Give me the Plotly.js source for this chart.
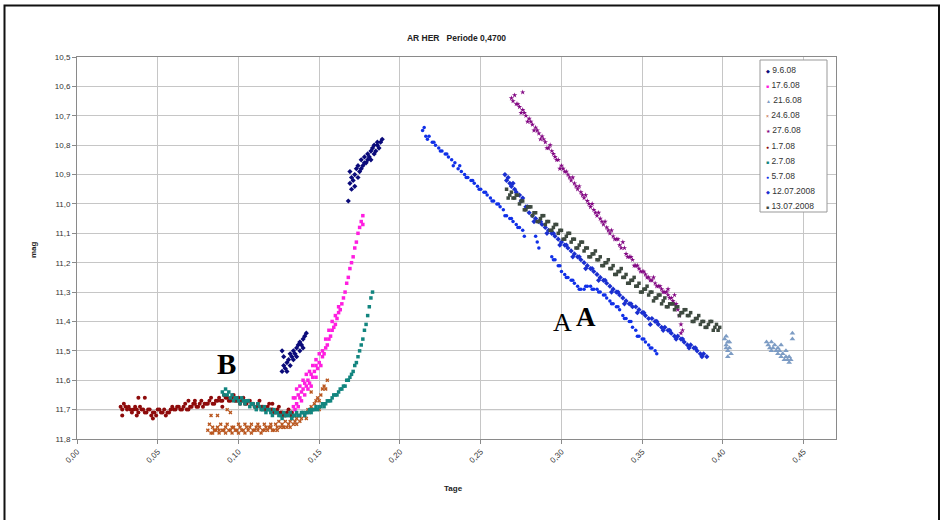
<!DOCTYPE html>
<html><head><meta charset="utf-8">
<script src="https://cdn.plot.ly/plotly-3.0.1.min.js"></script>
<style>html,body{margin:0;padding:0;background:#fff;} #chart{width:942px;height:520px;}</style>
</head><body><div id="chart"></div>
<script>
// ---- data (x = Tage phase, y = mag) ----
const x_9_6 = [0.127,0.127,0.128,0.128,0.129,0.130,0.130,0.131,0.132,0.132,0.133,0.134,0.134,0.135,0.136,0.136,0.137,0.138,0.138,0.139,0.140,0.140,0.141,0.142,
 0.168,0.169,0.169,0.170,0.170,0.171,0.172,0.172,0.173,0.174,0.174,0.175,0.176,0.176,0.177,0.178,0.178,0.179,0.180,0.180,0.181,0.182,0.182,0.183,0.184,0.184,0.185,0.186,0.186,0.187,0.188,0.189];
const y_9_6 = [11.57,11.50,11.55,11.52,11.56,11.54,11.57,11.53,11.55,11.51,11.52,11.50,11.53,11.51,11.49,11.52,11.48,11.50,11.47,11.48,11.46,11.49,11.45,11.44,
 10.99,10.93,10.89,10.95,10.91,10.92,10.90,10.94,10.88,10.91,10.87,10.89,10.88,10.85,10.87,10.86,10.84,10.86,10.83,10.85,10.84,10.82,10.85,10.81,10.83,10.80,10.82,10.80,10.79,10.81,10.79,10.78];

const x_17_6 = [0.133,0.134,0.135,0.135,0.136,0.137,0.137,0.138,0.139,0.139,0.140,0.141,0.141,0.142,0.143,0.143,0.144,0.145,0.145,0.146,0.147,0.148,0.148,0.149,0.150,0.151,0.152,0.153,0.154,0.155,0.156,0.157,0.158,0.159,0.160,0.161,0.162,0.163,0.164,0.165,0.166,0.167,0.168,0.169,0.170,0.171,0.172,0.173,0.174,0.175,0.176,0.177,0.177];
const y_17_6 = [11.71,11.69,11.70,11.66,11.68,11.65,11.69,11.66,11.64,11.67,11.63,11.65,11.61,11.62,11.60,11.63,11.61,11.58,11.62,11.59,11.57,11.59,11.55,11.56,11.54,11.55,11.52,11.51,11.49,11.48,11.46,11.45,11.43,11.42,11.41,11.39,11.37,11.36,11.34,11.32,11.30,11.27,11.25,11.22,11.20,11.18,11.15,11.13,11.10,11.08,11.06,11.04,11.07];
const x_17_6b = [0.134,0.136,0.138,0.140,0.142,0.144,0.146,0.148,0.150,0.152,0.154,0.156,0.158,0.160,0.162];
const y_17_6b = [11.66,11.63,11.62,11.60,11.58,11.57,11.55,11.53,11.51,11.50,11.46,11.43,11.40,11.38,11.35];

const x_21_6 = [0.401,0.402,0.402,0.403,0.403,0.404,0.404,0.405,0.403,0.402,
 0.427,0.428,0.429,0.430,0.430,0.431,0.432,0.433,0.434,0.434,0.435,0.436,0.436,0.437,0.438,0.439,0.439,0.440,0.441,0.441,0.442,0.443,0.443];
const y_21_6 = [11.46,11.48,11.45,11.47,11.50,11.49,11.47,11.51,11.52,11.49,
 11.47,11.48,11.49,11.47,11.50,11.49,11.48,11.50,11.51,11.49,11.50,11.52,11.48,11.51,11.53,11.52,11.50,11.53,11.54,11.52,11.53,11.46,11.44];

const x_24_6 = [0.081,0.082,0.083,0.084,0.085,0.087,0.088,0.089,0.091,0.092,0.093,0.095,0.096,0.097,0.099,0.100,0.101,0.103,0.104,0.105,0.107,0.108,0.109,0.111,0.112,0.113,0.115,0.116,0.117,0.119,0.120,0.121,0.123,0.124,0.125,0.127,0.128,0.129,0.131,0.132,0.133,0.135,0.136,0.137,0.139,0.140,0.141,0.143,0.144,0.145,0.147,0.148,0.149,0.151,0.152,0.153,0.155,
 0.083,0.087,0.093,0.095,0.145,0.150];
const y_24_6 = [11.77,11.75,11.78,11.76,11.77,11.76,11.77,11.75,11.77,11.76,11.75,11.77,11.76,11.76,11.77,11.75,11.76,11.77,11.75,11.76,11.76,11.75,11.77,11.76,11.75,11.76,11.77,11.75,11.76,11.76,11.75,11.77,11.75,11.76,11.74,11.75,11.76,11.74,11.75,11.74,11.73,11.74,11.73,11.72,11.73,11.71,11.72,11.70,11.71,11.69,11.68,11.67,11.66,11.65,11.63,11.62,11.60,
 11.72,11.72,11.70,11.71,11.64,11.70];
const x_24_6b = [0.084,0.086,0.088,0.090,0.092,0.094,0.096,0.098,0.100,0.102,0.104,0.106,0.108,0.110,0.112,0.114,0.116,0.118,0.120,0.122,0.124,0.126,0.128,0.130,0.132,0.134,0.136,0.138,0.142,0.146,0.150,0.154];
const y_24_6b = [11.78,11.77,11.78,11.77,11.78,11.77,11.78,11.77,11.78,11.77,11.78,11.77,11.78,11.77,11.77,11.78,11.77,11.77,11.76,11.77,11.77,11.76,11.76,11.76,11.76,11.75,11.75,11.74,11.73,11.70,11.67,11.63];

const x_27_6 = [0.269,0.270,0.271,0.272,0.274,0.276,0.276,0.278,0.280,0.282,0.284,0.286,0.288,0.290,0.292,0.293,0.294,0.296,0.298,0.299,0.300,0.302,0.304,0.306,0.308,0.310,0.312,0.314,0.316,0.318,0.320,0.322,0.324,0.326,0.328,0.330,0.332,0.334,0.336,0.338,0.340,0.342,0.344,0.346,0.348,0.350,0.352,0.354,0.356,0.357,0.358,0.360,0.362,0.364,0.366,0.366,0.368,0.370,0.370,0.372,0.373,0.374,0.374,0.375];
const y_27_6 = [10.64,10.65,10.63,10.66,10.67,10.68,10.62,10.70,10.71,10.73,10.74,10.76,10.77,10.79,10.81,10.80,10.82,10.84,10.85,10.88,10.87,10.89,10.90,10.92,10.93,10.95,10.96,10.98,10.99,11.01,11.02,11.04,11.05,11.07,11.08,11.10,11.11,11.12,11.14,11.13,11.17,11.18,11.19,11.21,11.22,11.23,11.24,11.25,11.26,11.25,11.27,11.28,11.29,11.30,11.31,11.29,11.32,11.34,11.31,11.36,11.38,11.41,11.44,11.43];
const x_27_6b = [0.273,0.275,0.277,0.279,0.281,0.283,0.285,0.287,0.289,0.291,0.295,0.297,0.301,0.303,0.305,0.307,0.309,0.311,0.313,0.315,0.317,0.319,0.321,0.323,0.325,0.327,0.329,0.331,0.333,0.335,0.337,0.339,0.341,0.343,0.345,0.347,0.349,0.351,0.353,0.355,0.359,0.361,0.363,0.365,0.367,0.369,0.371];
const y_27_6b = [10.66,10.69,10.69,10.72,10.72,10.75,10.75,10.78,10.78,10.81,10.83,10.85,10.88,10.89,10.91,10.91,10.94,10.94,10.97,10.97,11.00,11.00,11.03,11.03,11.06,11.06,11.09,11.09,11.12,11.12,11.15,11.15,11.18,11.18,11.21,11.21,11.23,11.23,11.25,11.26,11.28,11.28,11.30,11.30,11.32,11.33,11.34];

const x_1_7 = [0.027,0.028,0.029,0.030,0.031,0.032,0.033,0.034,0.035,0.036,0.038,0.040,0.042,0.044,0.046,0.048,0.050,0.052,0.054,0.056,0.058,0.060,0.062,0.064,0.066,0.068,0.070,0.072,0.074,0.076,0.078,0.080,0.082,0.084,0.086,0.088,0.090,0.092,0.094,0.096,0.098,0.100,0.102,0.104,0.106,0.108,0.110,0.112,0.114,0.116,0.118,0.120,0.122,0.124,0.126,0.128,0.130,0.132,0.134,
 0.028,0.038,0.042,0.069,0.073,0.037,0.047,0.090,0.121];
const y_1_7 = [11.69,11.70,11.68,11.69,11.70,11.69,11.70,11.71,11.70,11.69,11.71,11.70,11.71,11.70,11.72,11.71,11.70,11.71,11.70,11.71,11.70,11.70,11.69,11.70,11.69,11.70,11.69,11.68,11.69,11.68,11.69,11.68,11.67,11.68,11.67,11.66,11.67,11.66,11.67,11.66,11.67,11.66,11.67,11.68,11.67,11.68,11.69,11.68,11.69,11.70,11.69,11.70,11.71,11.70,11.71,11.72,11.71,11.72,11.72,
 11.72,11.66,11.66,11.67,11.67,11.72,11.73,11.69,11.68];
const x_1_7b = [0.037,0.039,0.041,0.043,0.045,0.047,0.049,0.051,0.053,0.055,0.057,0.059,0.061,0.063,0.065,0.067,0.069,0.071,0.073,0.075,0.077,0.079,0.081,0.083,0.085,0.087,0.089,0.091,0.093,0.095,0.097,0.099,0.101,0.103,0.105,0.107,0.109,0.111,0.113,0.115,0.117,0.119,0.121,0.123,0.125,0.127,0.129,0.131,0.133];
const y_1_7b = [11.70,11.69,11.70,11.71,11.70,11.71,11.72,11.70,11.71,11.72,11.71,11.69,11.70,11.69,11.70,11.68,11.70,11.69,11.68,11.69,11.67,11.68,11.68,11.66,11.68,11.67,11.67,11.65,11.66,11.67,11.65,11.67,11.68,11.66,11.68,11.67,11.68,11.69,11.67,11.69,11.70,11.68,11.70,11.71,11.69,11.71,11.72,11.70,11.71];

const x_2_7 = [0.090,0.091,0.092,0.093,0.094,0.095,0.096,0.098,0.100,0.102,0.104,0.106,0.108,0.110,0.112,0.114,0.116,0.118,0.120,0.122,0.124,0.126,0.128,0.130,0.132,0.134,0.136,0.138,0.140,0.142,0.144,0.146,0.148,0.150,0.152,0.154,0.156,0.158,0.160,0.162,0.164,0.166,0.168,0.170,0.172,0.174,0.176,0.178,0.179,0.180,0.181,0.182,0.183];
const y_2_7 = [11.64,11.65,11.63,11.65,11.64,11.66,11.65,11.66,11.67,11.66,11.68,11.67,11.68,11.69,11.68,11.70,11.69,11.70,11.71,11.70,11.71,11.72,11.71,11.72,11.71,11.72,11.71,11.72,11.71,11.71,11.70,11.70,11.69,11.69,11.68,11.68,11.67,11.66,11.65,11.64,11.63,11.62,11.60,11.58,11.55,11.52,11.48,11.43,11.41,11.38,11.35,11.32,11.30];
const x_2_7b = [0.097,0.099,0.101,0.103,0.105,0.107,0.109,0.111,0.113,0.115,0.117,0.119,0.121,0.123,0.125,0.127,0.129,0.131,0.133,0.135,0.137,0.139,0.141,0.143,0.145,0.147,0.149,0.151,0.153,0.155,0.157,0.159,0.161,0.163,0.165,0.167,0.169,0.171,0.173,0.175,0.177];
const y_2_7b = [11.67,11.66,11.68,11.67,11.67,11.69,11.68,11.70,11.69,11.70,11.71,11.70,11.72,11.71,11.72,11.73,11.72,11.72,11.73,11.72,11.72,11.71,11.72,11.71,11.71,11.70,11.70,11.69,11.69,11.67,11.67,11.65,11.65,11.63,11.62,11.60,11.59,11.57,11.54,11.50,11.46];

const x_5_7 = [0.214,0.215,0.216,0.218,0.220,0.222,0.224,0.226,0.228,0.230,0.232,0.234,0.236,0.238,0.240,0.242,0.244,0.246,0.248,0.250,0.252,0.254,0.256,0.258,0.260,0.262,0.264,0.266,0.268,0.270,0.272,0.274,0.276,0.277,
 0.284,0.285,0.286,
 0.294,0.296,0.298,0.300,0.302,0.304,0.306,0.308,0.310,0.312,0.314,0.316,0.318,0.320,0.322,0.324,0.326,0.328,0.330,0.332,0.334,0.336,0.338,0.340,0.342,0.344,0.346,0.348,0.350,0.352,0.354,0.356,0.358,0.359];
const y_5_7 = [10.75,10.74,10.77,10.77,10.79,10.80,10.81,10.82,10.83,10.84,10.85,10.86,10.88,10.89,10.90,10.91,10.92,10.93,10.94,10.95,10.96,10.97,10.98,10.99,11.00,11.01,11.02,11.04,11.05,11.06,11.07,11.08,11.09,11.11,
 11.11,11.13,11.15,
 11.18,11.19,11.21,11.23,11.24,11.25,11.26,11.27,11.28,11.29,11.29,11.28,11.28,11.29,11.29,11.30,11.31,11.32,11.33,11.34,11.35,11.36,11.38,11.39,11.40,11.42,11.43,11.45,11.46,11.47,11.48,11.49,11.50,11.51];
const x_5_7b = [0.217,0.221,0.225,0.229,0.233,0.237,0.241,0.245,0.249,0.253,0.257,0.261,0.265,0.269,0.273,
 0.295,0.299,0.303,0.307,0.311,0.315,0.319,0.323,0.327,0.331,0.335,0.339,0.343,0.347,0.351,0.355];
const y_5_7b = [10.78,10.79,10.82,10.83,10.87,10.87,10.91,10.92,10.95,10.96,10.99,11.00,11.04,11.05,11.08,
 11.19,11.21,11.25,11.26,11.29,11.28,11.29,11.30,11.31,11.34,11.35,11.39,11.40,11.45,11.46,11.49];

const x_12_07 = [0.265,0.266,0.267,0.268,0.269,0.270,0.272,0.274,0.276,0.278,0.280,0.282,0.284,0.286,0.288,0.290,0.292,0.294,0.296,0.298,0.300,0.302,0.304,0.306,0.308,0.310,0.312,0.314,0.316,0.318,0.320,0.322,0.324,0.326,0.328,0.330,0.332,0.334,0.336,0.338,0.340,0.342,0.344,0.346,0.348,0.350,0.352,0.354,0.356,0.358,0.360,0.362,0.364,0.366,0.368,0.370,0.372,0.374,0.376,0.378,0.380,0.382,0.384,0.386,0.388,0.390];
const y_12_07 = [10.90,10.92,10.91,10.93,10.94,10.93,10.96,10.97,10.98,11.01,11.03,11.04,11.05,11.06,11.07,11.08,11.09,11.10,11.11,11.12,11.13,11.14,11.15,11.16,11.17,11.18,11.19,11.20,11.21,11.22,11.23,11.24,11.25,11.26,11.27,11.28,11.29,11.30,11.31,11.32,11.33,11.34,11.35,11.35,11.36,11.37,11.38,11.39,11.39,11.40,11.41,11.42,11.42,11.43,11.44,11.45,11.45,11.46,11.47,11.48,11.48,11.49,11.50,11.51,11.51,11.52];
const x_12_07b = [0.271,0.275,0.279,0.283,0.287,0.291,0.295,0.299,0.303,0.307,0.311,0.315,0.319,0.323,0.327,0.331,0.335,0.339,0.343,0.347,0.351,0.355,0.359,0.363,0.367,0.371,0.375,0.379,0.383,0.387];
const y_12_07b = [10.95,10.99,11.01,11.06,11.06,11.10,11.10,11.14,11.14,11.18,11.18,11.22,11.22,11.26,11.26,11.30,11.30,11.34,11.34,11.37,11.37,11.41,11.40,11.43,11.43,11.46,11.46,11.49,11.49,11.52];

const x_13_07 = [0.266,0.267,0.268,0.269,0.270,0.271,0.272,0.274,0.275,0.276,0.278,0.279,0.280,0.282,0.283,0.284,0.286,0.287,0.288,0.290,0.291,0.292,0.294,0.295,0.296,0.298,0.299,0.300,0.302,0.303,0.304,0.306,0.307,0.308,0.310,0.311,0.312,0.314,0.315,0.316,0.318,0.319,0.320,0.322,0.323,0.324,0.326,0.327,0.328,0.330,0.331,0.332,0.334,0.335,0.336,0.338,0.339,0.340,0.342,0.343,0.344,0.346,0.347,0.348,0.350,0.351,0.352,0.354,0.355,0.356,0.358,0.359,0.360,0.362,0.363,0.364,0.366,0.367,0.368,0.370,0.371,0.372,0.374,0.375,0.376,0.378,0.379,0.380,0.382,0.383,0.384,0.386,0.387,0.388,0.390,0.391,0.392,0.394,0.395,0.396,0.397,0.398];
const y_13_07 = [10.95,10.98,10.97,10.96,10.98,10.98,10.97,11.00,10.99,10.99,11.02,11.01,11.01,11.04,11.03,11.03,11.06,11.05,11.04,11.07,11.06,11.06,11.09,11.08,11.07,11.10,11.09,11.09,11.12,11.11,11.10,11.13,11.12,11.12,11.15,11.14,11.13,11.16,11.15,11.15,11.18,11.17,11.17,11.19,11.19,11.18,11.21,11.20,11.20,11.22,11.22,11.21,11.24,11.23,11.23,11.25,11.25,11.24,11.27,11.26,11.26,11.28,11.28,11.27,11.30,11.29,11.29,11.31,11.30,11.30,11.32,11.32,11.31,11.34,11.33,11.32,11.35,11.34,11.34,11.36,11.35,11.35,11.37,11.37,11.36,11.38,11.38,11.37,11.40,11.39,11.39,11.41,11.40,11.40,11.42,11.41,11.40,11.43,11.42,11.41,11.43,11.42];
const x_13_07b = [0.273,0.277,0.281,0.285,0.289,0.293,0.297,0.301,0.305,0.309,0.313,0.317,0.321,0.325,0.329,0.333,0.337,0.341,0.345,0.349,0.353,0.357,0.361,0.365,0.369,0.373,0.377,0.381,0.385,0.389,0.393];
const y_13_07b = [10.97,11.02,11.01,11.06,11.04,11.09,11.07,11.12,11.10,11.15,11.13,11.18,11.16,11.21,11.19,11.24,11.22,11.27,11.25,11.30,11.28,11.33,11.31,11.35,11.34,11.38,11.36,11.40,11.38,11.42,11.40];

const seriesNames = ['9.6.08','17.6.08','21.6.08','24.6.08','27.6.08','1.7.08','2.7.08','5.7.08','12.07.2008','13.07.2008'];
const seriesX = [x_9_6, x_17_6.concat(x_17_6b), x_21_6, x_24_6.concat(x_24_6b), x_27_6.concat(x_27_6b), x_1_7.concat(x_1_7b), x_2_7.concat(x_2_7b), x_5_7.concat(x_5_7b), x_12_07.concat(x_12_07b), x_13_07.concat(x_13_07b)];
const seriesY = [y_9_6, y_17_6.concat(y_17_6b), y_21_6, y_24_6.concat(y_24_6b), y_27_6.concat(y_27_6b), y_1_7.concat(y_1_7b), y_2_7.concat(y_2_7b), y_5_7.concat(y_5_7b), y_12_07.concat(y_12_07b), y_13_07.concat(y_13_07b)];
const xTickVals = [0,0.05,0.10,0.15,0.20,0.25,0.30,0.35,0.40,0.45];
const yTickVals = [10.5,10.6,10.7,10.8,10.9,11.0,11.1,11.2,11.3,11.4,11.5,11.6,11.7,11.8];

// ---- styles ----
const colors  = ['#0a0a7a','#ff1ee0','#7d9cc4','#b9561e','#840a84','#8e0b0b','#12857f','#1030e8','#1a2fd0','#3e4a40'];
const symbols = ['diamond','square','triangle-up','x','star','circle','square','circle','diamond','square'];
const glyphs  = ['◆','■','▲','×','★','●','■','●','◆','■'];
const sizes   = [4,3.5,5,3.5,4,4,3.5,3.5,4,3.5];

const traces = seriesNames.map((n,i)=>({
  type:'scatter', mode:'markers', name:n, x:seriesX[i], y:seriesY[i], showlegend:false,
  marker:{color:colors[i], symbol:symbols[i], size:sizes[i], line:{width:0}}
}));

const W=942,H=520, L=77,R=106,T=57,B=81;
const pw=W-L-R, ph=H-T-B;
const px=(p)=> (p-L)/pw;
const py=(p)=> 1-(p-T)/ph;

const font = 'Liberation Sans, Arial, sans-serif';
const annotations = [];
seriesNames.forEach((n,i)=>{
  annotations.push({xref:'paper',yref:'paper',x:px(764),y:py(70+i*15.1),xanchor:'left',yanchor:'middle',showarrow:false,
    text:'<span style="color:'+colors[i]+';font-size:5px">'+glyphs[i]+'</span> '+n,
    font:{family:font,size:8.5,color:'#333'}});
});
annotations.push({xref:'paper',yref:'paper',x:px(453),y:py(488),showarrow:false,text:'<b>Tage</b>',font:{family:font,size:8,color:'#222'},xanchor:'center',yanchor:'middle'});
annotations.push({xref:'paper',yref:'paper',x:px(34),y:py(250),showarrow:false,text:'<b>mag</b>',textangle:-90,font:{family:font,size:8,color:'#222'},xanchor:'center',yanchor:'middle'});
const serif='Liberation Serif, Times New Roman, serif';
annotations.push({xref:'x',yref:'y',x:0.3004,y:11.405,showarrow:false,text:'A',font:{family:serif,size:26,color:'#000'}});
annotations.push({xref:'x',yref:'y',x:0.3152,y:11.385,showarrow:false,text:'<b>A</b>',font:{family:serif,size:27,color:'#000'}});
annotations.push({xref:'x',yref:'y',x:0.0927,y:11.545,showarrow:false,text:'<b>B</b>',font:{family:serif,size:29,color:'#000'}});

const shapes = [
  {type:'line',xref:'paper',yref:'y',x0:0,x1:1,y0:11.7,y1:11.7,line:{color:'#777',width:1},layer:'below'},
  {type:'rect',xref:'paper',yref:'paper',x0:px(760),x1:px(827),y0:py(212),y1:py(60),line:{color:'#999',width:1},fillcolor:'#fff',layer:'above'},
  {type:'rect',xref:'paper',yref:'paper',x0:px(4.5),x1:px(939),y0:py(530),y1:py(5.5),line:{color:'#111',width:2},fillcolor:'rgba(0,0,0,0)',layer:'above'}
];

const layout = {
  width:W,height:H,margin:{l:L,r:R,t:T,b:B},
  paper_bgcolor:'#fff',plot_bgcolor:'#fff',
  separators:', ',
  showlegend:false,
  title:{text:'<b>AR HER\u00a0\u00a0\u00a0Periode 0,4700</b>',font:{family:font,size:8.5,color:'#222'},x:0.5,xref:'paper',xanchor:'center',y:1-38/H,yanchor:'middle'},
  xaxis:{range:[0,0.47],tickvals:xTickVals,tickformat:'.2f',tickangle:-45,showgrid:true,gridcolor:'#c6c6c6',gridwidth:1,
    zeroline:false,showline:true,mirror:true,linecolor:'#8a8a8a',linewidth:1,ticks:'outside',ticklen:4,tickcolor:'#8a8a8a',
    tickfont:{family:font,size:8,color:'#333'},automargin:false},
  yaxis:{range:[11.8,10.5],tickvals:yTickVals,tickformat:'.1f',showgrid:true,gridcolor:'#c6c6c6',gridwidth:1,
    zeroline:false,showline:true,mirror:true,linecolor:'#8a8a8a',linewidth:1,ticks:'outside',ticklen:4,tickcolor:'#8a8a8a',
    tickfont:{family:font,size:8,color:'#333'},automargin:false},
  annotations:annotations, shapes:shapes
};
Plotly.newPlot('chart',traces,layout,{staticPlot:true,displayModeBar:false});
</script></body></html>
